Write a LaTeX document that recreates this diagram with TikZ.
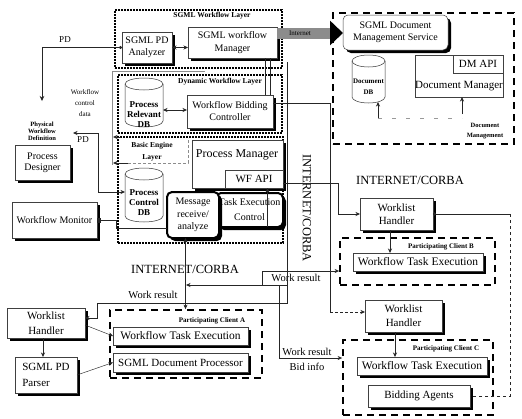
\documentclass[tikz,border=0pt]{standalone}
\usepackage{fontspec}
\setmainfont{Liberation Serif}
\usetikzlibrary{arrows.meta,shadows}
\newcommand\mycyl[5]{%
  \pgfmathsetmacro\cyrx{(#3-#1)/2}%
  \draw[cylbody] (#1,#2+#5) -- (#1,#4-#5) arc[start angle=180,end angle=360,x radius=\cyrx pt,y radius=#5pt] -- (#3,#2+#5) arc[start angle=0,end angle=180,x radius=\cyrx pt,y radius=#5pt] -- cycle;
  \draw[cylbody, fill=none] (#1,#2+#5) arc[start angle=180,end angle=360,x radius=\cyrx pt,y radius=#5pt];
}
\tikzset{
  corners/.style n args={4}{minimum width={(#3-#1)*1pt}, minimum height={(#4-#2)*1pt}, at={({(#1+#3)/2},{(#2+#4)/2})}},
  box/.style={draw=black!75, line width=0.5pt, fill=white, align=center, inner sep=0pt, outer sep=0pt, font=\fontsize{10}{12.5}\selectfont},
  shbox/.style={box, general shadow={fill=black, shadow xshift=3pt, shadow yshift=-3pt}},
  layer/.style={draw=black, line width=1.7pt, dash pattern=on 1.7pt off 1.3pt, inner sep=0pt},
  client/.style={draw=black, line width=1.8pt, dash pattern=on 7pt off 5pt, inner sep=0pt},
  lbl/.style={font=\fontsize{7.5}{8.5}\selectfont\bfseries, align=center, inner sep=0pt},
  plain/.style={inner sep=0pt, align=center},
  conn/.style={line width=0.45pt, draw=black!85},
  tip/.style={conn, -{Stealth[length=4.5pt,width=4pt]}},
  dtip/.style={conn, {Stealth[length=4.5pt,width=4pt]}-{Stealth[length=4.5pt,width=4pt]}},
  cylbody/.style={draw=black!80, line width=0.5pt, fill=white},
}
\begin{document}
\begin{tikzpicture}[x=1pt,y=-1pt]
\fill[white] (0,0) rectangle (522,418);
\useasboundingbox (0,0) rectangle (522,418);
% layers and areas
\node[layer, corners={115}{10}{282}{68}] (wflayer) {};
\node[layer, corners={118}{75}{282}{133}] (dynlayer) {};
\node[layer, corners={118}{137}{283}{243}] (baslayer) {};
\node[client, corners={333}{13}{514}{144}] (dmarea) {};
\node[client, corners={340}{238}{495}{285}] (clientB) {};
\node[client, corners={343}{340}{493}{415}] (clientC) {};
\node[client, corners={110}{310}{262}{378}] (clientA) {};
% titles
\node[lbl] (wfltitle) at (212,16) {SGML Workflow Layer};
\node[lbl] (dyntitle) at (220,82) {Dynamic Workflow Layer};
\node[lbl, font=\fontsize{7.5}{12}\selectfont\bfseries] (bastitle) at (152,152) {Basic Engine\\Layer};
\node[lbl, font=\fontsize{6.5}{10}\selectfont\bfseries] (dmtitle) at (485,131) {Document\\Management};
\node[lbl, font=\fontsize{7}{8}\selectfont\bfseries] (cbtitle) at (441,247) {Participating Client B};
\node[lbl, font=\fontsize{7}{8}\selectfont\bfseries] (cctitle) at (446,349) {Participating Client C};
\node[lbl, font=\fontsize{7}{8}\selectfont\bfseries] (catitle) at (212,321) {Participating Client A};
% gray workflow control data lines
\draw[conn, draw=black!45] (205,71) -- (112,71) -- (112,165);
\draw[conn, draw=black!45, densely dashed] (128,163) -- (188,163) -- (188,138);
% boxes
\node[shbox, corners={122}{32}{172}{63}] (analyzer) {SGML PD\\Analyzer};
\node[shbox, corners={188}{27}{277}{58}] (manager) {SGML workflow\\Manager};
\node[shbox, rounded corners=5pt, corners={343}{15}{448}{50}, font=\fontsize{10}{11.5}\selectfont] (dms) {SGML Document\\Management Service};
\node[box, corners={415}{55}{503}{97}] (docmgr) {};
\node[box, corners={453}{55}{503}{73}, font=\fontsize{11}{12}\selectfont] (dmapi) {DM API};
\node[plain, font=\fontsize{11}{12}\selectfont] (docmgrtxt) at (459,86) {Document Manager};
\node[shbox, corners={187}{95}{273}{128}, font=\fontsize{10}{12}\selectfont] (bidding) {Workflow Bidding\\Controller};
\node[shbox, corners={192}{140}{283}{188}] (pm) {};
\node[plain, font=\fontsize{12}{13}\selectfont] (pmtxt) at (237,155) {Process Manager};
\node[box, corners={225}{170}{283}{188}, font=\fontsize{11}{12}\selectfont] (wfapi) {WF API};
\node[shbox, rounded corners=5pt, line width=2pt, draw=black, corners={216}{193}{283}{227}, font=\fontsize{10}{15}\selectfont] (tec) {Task Execution\\Control};
\node[shbox, rounded corners=5pt, line width=2pt, draw=black, corners={167}{192}{219}{238}, font=\fontsize{10}{12.5}\selectfont] (msg) {Message\\receive/\\analyze};
\node[shbox, corners={15}{145}{70}{180}, font=\fontsize{10}{11}\selectfont] (designer) {Process\\Designer};
\node[shbox, corners={12}{202}{97}{238}] (monitor) {Workflow Monitor};
\node[shbox, corners={360}{198}{433}{230}, font=\fontsize{11}{13}\selectfont] (whb) {Worklist\\Handler};
\node[shbox, corners={353}{253}{483}{271}, font=\fontsize{11.5}{12}\selectfont] (wteb) {Workflow Task Execution};
\node[shbox, corners={365}{300}{442}{332}, font=\fontsize{11}{14}\selectfont] (whc) {Worklist\\Handler};
\node[shbox, corners={357}{357}{487}{375}, font=\fontsize{11.5}{12}\selectfont] (wtec) {Workflow Task Execution};
\node[shbox, corners={368}{385}{470}{407}, font=\fontsize{11}{12}\selectfont] (agents) {Bidding Agents};
\node[shbox, corners={7}{308}{85}{338}, font=\fontsize{11}{15}\selectfont] (wha) {Worklist\\Handler};
\node[shbox, corners={15}{357}{77}{393}, font=\fontsize{11}{16}\selectfont, align=left] (parser) {SGML PD\\Parser};
\node[shbox, corners={113}{327}{248}{345}, font=\fontsize{11.5}{12}\selectfont] (wtea) {Workflow Task Execution};
\node[shbox, corners={113}{353}{248}{372}, font=\fontsize{11}{12}\selectfont] (sdp) {SGML Document Processor};
% cylinders
\mycyl{125}{78}{163}{127}{6}
\node[plain, font=\fontsize{9}{10}\selectfont\bfseries] (prdb) at (144,115) {Process\\Relevant\\DB};
\mycyl{125}{168}{163}{222}{6}
\node[plain, font=\fontsize{9}{10}\selectfont\bfseries] (pcdb) at (144,203) {Process\\Control\\DB};
\mycyl{352}{55}{385}{103}{6}
\node[plain, font=\fontsize{7}{11}\selectfont\bfseries] (docdb) at (368.5,87) {Document\\DB};
% free labels
\node[plain, font=\fontsize{9}{10}\selectfont] (pdA) at (65,40) {PD};
\node[plain, font=\fontsize{7}{11}\selectfont] (wcd) at (85,103) {Workflow\\control\\data};
\node[plain, font=\fontsize{6.5}{7}\selectfont\bfseries] (pwd) at (42,131) {Physical\\Workflow\\Definition};
\node[plain, font=\fontsize{9}{10}\selectfont] (pdB) at (83,140) {PD};
\node[plain, font=\fontsize{12.5}{13}\selectfont] (corba1) at (185,269) {INTERNET/CORBA};
\node[plain, font=\fontsize{12.5}{13}\selectfont] (corba2) at (410,180) {INTERNET/CORBA};
\node[plain, font=\fontsize{12.5}{13}\selectfont, rotate=-90] (corba3) at (307,208) {INTERNET/CORBA};
\node[plain, font=\fontsize{10.5}{11}\selectfont] (wr1) at (153,295) {Work result};
\node[plain, font=\fontsize{10.5}{11}\selectfont] (wr2) at (296,278) {Work result};
\node[plain, font=\fontsize{10.5}{15}\selectfont] (wr3) at (307,359.5) {Work result\\Bid info};
% coordinates
\coordinate (iy) at (0,33);
\coordinate (prdbE) at (163,110);
\coordinate (pdEnd) at (42,101);
\coordinate (pcdbW) at (125,192);
\coordinate (pwdE) at (73,133);
\coordinate (busTop) at (287,62);
\coordinate (dbArrowS) at (378,118);
\coordinate (dbBottom) at (378,102);
\coordinate (dmArrowS) at (462,114);
% connectors
\draw[dtip] (analyzer.east) -- (analyzer.east -| manager.west);
\draw[line width=11pt, draw=black!45, -{Triangle[length=13pt,width=24pt,color=black]}] (manager.east |- iy) -- (dms.west |- iy);
\node[plain, font=\fontsize{7}{8}\selectfont] (inet) at (300,33) {Internet};
\draw[conn] ([xshift=-12pt]manager.south east) -- ([xshift=-12pt]manager.south east |- bidding.north);
\draw[conn] ([xshift=-7pt]manager.south east) -- ([xshift=-7pt]manager.south east |- bidding.north);
\draw[dtip] (prdbE) -- (prdbE -| bidding.west);
\draw[conn, {Circle[length=3pt]}-{Stealth[length=5pt,width=4.5pt]}] (analyzer.west) -| (pdEnd);
\draw[dtip] (pcdbW) -| (98,133) -- (pwdE);
\draw[tip] (121,137) -- (113,137);
\draw[tip] (128,163) -- (113,163);
\draw[conn, {Square[length=3.5pt,width=4.5pt]}-] (monitor.east) -- (116,220) |- ([yshift=-13pt]msg.west);
\draw[dtip] ([xshift=-7.5pt]msg.south) -- ([xshift=-7.5pt]msg.south |- clientA.north);
\draw[tip] ([xshift=18pt]tec.south) -- ([xshift=18pt]tec.south |- wfapi.south);
\draw[tip] (busTop) -- (287,303) -- (97,303) |- ([yshift=5pt]wha.east);
\draw[conn] ([yshift=8.5pt]bidding.east) -- (330,103) -- (330,312);
\draw[tip, densely dashed] (330,312) -- ([yshift=4pt]whc.west);
\draw[tip] ([yshift=-4pt]wfapi.east) -- (338,183) |- (whb.west);
\draw[tip] (287,285) -- (186,285);
\draw[tip] (262,285) |- ([yshift=-9.5pt]clientB.west);
\draw[tip] (279,285) |- ([yshift=19.5pt]clientC.west);
\draw[conn, {Circle[length=3pt]}-] (whb.east) -- (510,214);
\draw[conn, dashed] (510,214) -- (510,396) -- (agents.east);
\draw[tip] ([xshift=-6.5pt]whb.south) -- ([xshift=-6.5pt]whb.south |- wteb.north);
\draw[tip] ([xshift=-8.5pt]whc.south) -- ([xshift=-8.5pt]whc.south |- wtec.north);
\draw[tip] ([xshift=-3pt]wha.south) -- ([xshift=-3pt]wha.south |- parser.north);
\draw[tip] ([yshift=-2pt]wha.east) -- (wtea.west);
\draw[tip] (parser.east) -- (sdp.west);
\draw[tip] (dbArrowS) -- (dbBottom);
\draw[tip] (dmArrowS) -- (dmArrowS |- docmgr.south);
\draw[conn, draw=black!40, dash pattern=on 4pt off 10pt] (dbArrowS) -- (dmArrowS |- dbArrowS);
\end{tikzpicture}
\end{document}
